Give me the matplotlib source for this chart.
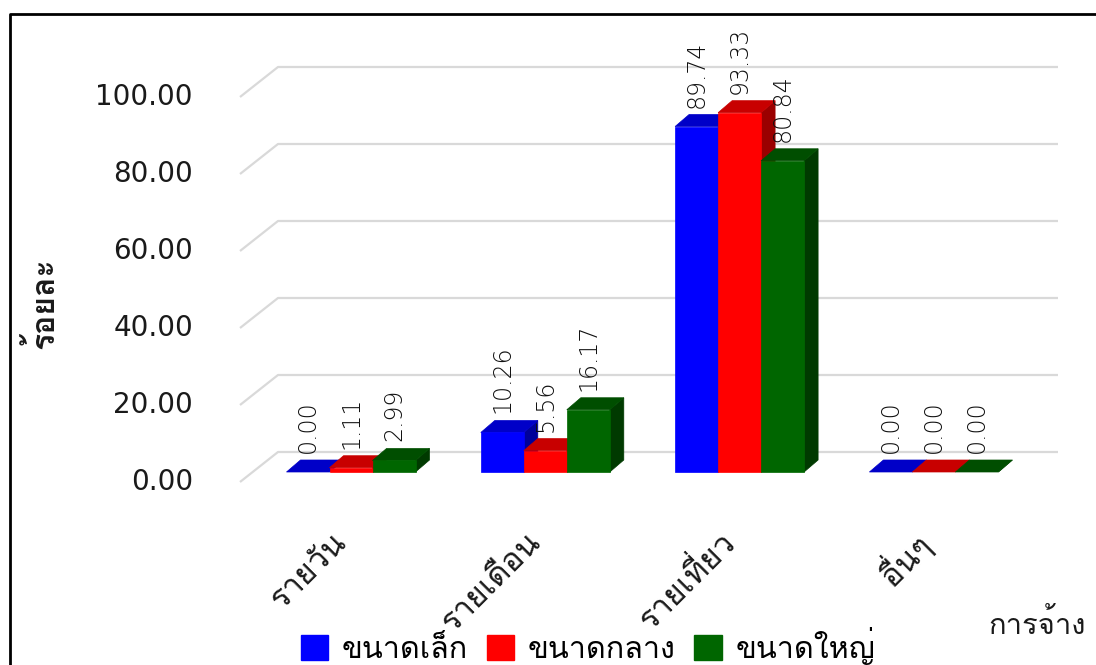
import numpy as np
import matplotlib
matplotlib.use('Agg')
import matplotlib.pyplot as plt
from matplotlib.patches import Polygon, Rectangle, Patch
from matplotlib.lines import Line2D

plt.rcParams['font.family'] = ['Loma', 'DejaVu Sans']

categories = ['รายวัน', 'รายเดือน', 'รายเที่ยว', 'อื่นๆ']
series = ['ขนาดเล็ก', 'ขนาดกลาง', 'ขนาดใหญ่']
small = [0.00, 10.26, 89.74, 0.00]
medium = [1.11, 5.56, 93.33, 0.00]
large = [2.99, 16.17, 80.84, 0.00]
yticks = [0, 20, 40, 60, 80, 100]

# front / top / side shades for the fake 3d bars
colors = [('#0000FF', '#0000C8', '#00009A'),
          ('#FF0000', '#C80000', '#9A0000'),
          ('#006600', '#004E00', '#003A00')]

# pixel scale of the plot area (figure drawn at 100 dpi)
PX_X = 194.3   # pixels per category
PX_Y = 3.85    # pixels per percent
bar_w = 43 / PX_X
dep_x, dep_y = 14 / PX_X, 12 / PX_Y          # bar depth
wall_x0, wall_x1, grid_x1 = -111 / PX_X, -73 / PX_X, 707 / PX_X
floor_front, floor_back = -10 / PX_Y, 20 / PX_Y

fig = plt.figure(figsize=(10.96, 6.65), dpi=100)
ax = fig.add_axes([240 / 1096, 175 / 665, 820 / 1096, 450 / 665])
ax.set_xlim(wall_x0, wall_x0 + 820 / PX_X)
ax.set_ylim(-18 / PX_Y, 432 / PX_Y)
ax.axis('off')

# gridlines on the back wall with the diagonal at the side
for v in yticks:
    ax.plot([wall_x0, wall_x1, grid_x1], [v + floor_front, v + floor_back, v + floor_back],
            color='#D9D9D9', lw=1.6, zorder=1, clip_on=False, solid_capstyle='butt')
    ax.text(wall_x0 - 47 / PX_X, v + floor_front, '%.2f' % v, ha='right', va='center',
            fontsize=20, color='#1a1a1a', family='DejaVu Sans', clip_on=False)

x = np.arange(len(categories))
values = [small, medium, large]
for i in range(len(categories)):
    for j, vals in enumerate(values):
        v = vals[i]
        x0 = x[i] + (j - 1.5) * bar_w
        front, top, side = colors[j]
        ax.add_patch(Polygon([(x0 + bar_w, 0), (x0 + bar_w + dep_x, dep_y),
                              (x0 + bar_w + dep_x, v + dep_y), (x0 + bar_w, v)],
                             closed=True, fc=side, ec=side, lw=0.5, zorder=3 + i * 3 + j))
        ax.add_patch(Polygon([(x0, v), (x0 + bar_w, v), (x0 + bar_w + dep_x, v + dep_y),
                              (x0 + dep_x, v + dep_y)],
                             closed=True, fc=top, ec=top, lw=0.5, zorder=3 + i * 3 + j))
        if v > 0:
            ax.add_patch(Rectangle((x0, 0), bar_w, v, fc=front, ec=front, lw=0.5,
                                   zorder=3 + i * 3 + j))
        ax.text(x0 + bar_w / 2, v + dep_y + 7 / PX_Y, '%.2f' % v, rotation=90,
                ha='center', va='bottom', fontsize=17, color='#111111',
                family='DejaVu Sans', fontweight='light', zorder=20)
    ax.text(x[i] - 9 / PX_X, -66 / PX_Y, categories[i], rotation=45, rotation_mode='anchor',
            ha='right', va='center', fontsize=23, color='#1a1a1a', clip_on=False)

fig.text(42 / 1096, 1 - 303 / 665, 'ร้อยละ', rotation=90, ha='center', va='center',
         fontsize=23, fontweight='bold', color='#1a1a1a')
fig.text(988 / 1096, 1 - 624 / 665, 'การจ้าง', ha='left', va='center',
         fontsize=21, color='#1a1a1a')

handles = [Patch(fc=c[0], ec=c[0]) for c in colors]
fig.legend(handles, series, loc='center', bbox_to_anchor=(588 / 1096, 1 - 646 / 665),
           ncol=3, frameon=False, fontsize=22, handlelength=0.9, handleheight=0.9,
           handletextpad=0.45, columnspacing=0.6, borderaxespad=0)

# outer frame, open at right and bottom
fig.add_artist(Line2D([10 / 1096, 10 / 1096, 1.0], [0.0, 1 - 14 / 665, 1 - 14 / 665],
                      transform=fig.transFigure, color='black', lw=2))

fig.savefig('out.png', dpi=100)
